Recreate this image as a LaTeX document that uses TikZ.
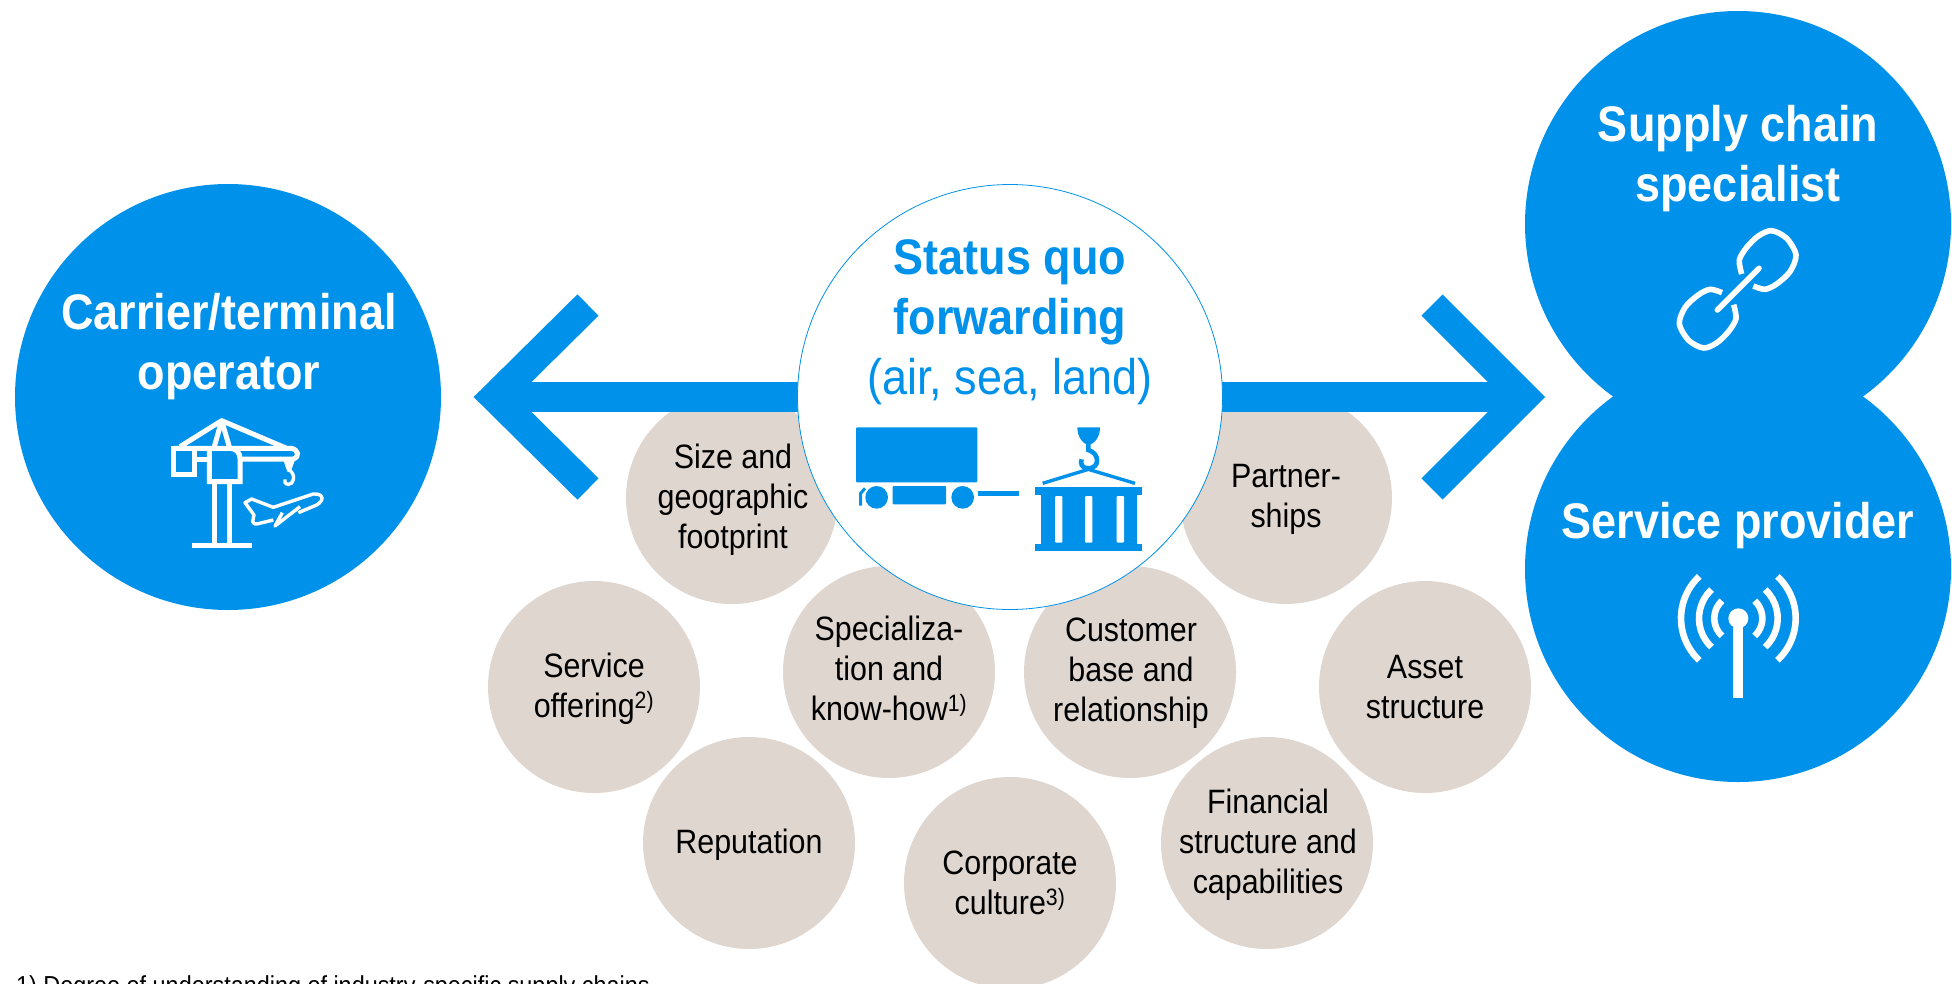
\documentclass[tikz,border=0pt]{standalone}
\usepackage{fontspec}
\setmainfont[FakeStretch=0.9]{Liberation Sans}
\usepackage{tikz}
\definecolor{dpblue}{RGB}{0,145,234}
\definecolor{dpgrey}{RGB}{223,214,207}
\newcommand{\bigfont}{\fontsize{50}{60}\selectfont}
\newcommand{\smallfont}{\fontsize{33.8}{40}\selectfont}
\tikzset{every node/.style={inner sep=0pt}}

\begin{document}
\begin{tikzpicture}[
  x=1pt, y=-1pt,
  disc/.style={shape=circle, fill=dpblue, minimum size=426pt},
  greydisc/.style={shape=circle, fill=dpgrey, minimum size=212pt},
  greytext/.style={align=center, font=\smallfont},
  headline/.style={align=center, text=white, font=\bigfont\bfseries},
  arrowline/.style={draw=dpblue, line width=30pt, miter limit=10},
  iconline/.style={draw=white, line width=5pt},
  bluefill/.style={fill=dpblue, rounded corners=1pt}
]
\useasboundingbox (0,0) rectangle (1952,983);

% factors behind the arrow
\path (732,498) node[greydisc] (size) {} ++(1,2) node[greytext] (sizetext) {Size and\\geographic\\footprint};
\path (594,687) node[greydisc] (offering) {} ++(0,2) node[greytext] (offeringtext) {Service\\offering\textsuperscript{2)}};
\path (889,672) node[greydisc] (know) {} ++(0,-4) node[greytext] (knowtext) {Specializa-\\tion and\\know-how\textsuperscript{1)}};
\path (1130,672) node[greydisc] (customer) {} ++(1,1) node[greytext] (customertext) {Customer\\base and\\relationship};
\path (1286,498) node[greydisc] (partner) {} ++(0,1) node[greytext] (partnertext) {Partner-\\ships};
\path (1425,687) node[greydisc] (asset) {} node[greytext] (assettext) {Asset\\structure};
\path (749,843) node[greydisc] (reputation) {} ++(0,2) node[greytext] (reputationtext) {Reputation};
\path (1010,883) node[greydisc] (culture) {} node[greytext] (culturetext) {Corporate\\culture\textsuperscript{3)}};
\path (1267,843) node[greydisc] (financial) {} ++(1,2) node[greytext] (financialtext) {Financial\\structure and\\capabilities};

% the three outer roles
\path (228,397) node[disc] (carrier) {};
\path (1738,224) node[disc] (supply) {};
\path (1738,569) node[disc] (provider) {};
\path (229,347) node[headline] (carriertext) {Carrier/terminal\\operator};
\path (1738,159) node[headline] (supplytext) {Supply chain\\specialist};
\path (1738,526) node[headline] (providertext) {Service provider};

% double arrow
\coordinate (lefttip) at (495,397);
\coordinate (leftup) at (588,305);
\coordinate (leftdown) at (588,489);
\coordinate (righttip) at (1524,397);
\coordinate (rightup) at (1432,305);
\coordinate (rightdown) at (1432,489);
\draw[arrowline] (leftup) -- (lefttip) -- (leftdown);
\draw[arrowline] (rightup) -- (righttip) -- (rightdown);
\draw[arrowline] (lefttip) -- (righttip);

% status quo
\path (1010,397) node[shape=circle, draw=dpblue, line width=0.8pt, fill=white, minimum size=425pt] (status) {};
\path (1010,322) node[align=center, text=dpblue, font=\bigfont] (statustext)
  {\textbf{Status quo}\\\textbf{forwarding}\\(air, sea, land)};

% truck and container
\begin{scope}[shift={(820,400)}, scale=1/3]
\fill[bluefill] (108,82) rectangle (472,247);
\fill[bluefill] (218,258) rectangle (378,313);
\fill[dpblue] (170,292) circle (34);
\fill[dpblue] (428,292) circle (34);
\fill[dpblue] (474,273) rectangle (597,288);
\draw[dpblue, line width=3pt] (122,317) -- (122,280) -- (135,265);
\fill[dpblue] (772,82) -- (840,82) .. controls (840,110) and (825,130) .. (806,136) .. controls (787,130) and (772,110) .. (772,82) -- cycle;
\draw[dpblue, line width=4.6pt] (805,130) -- (805,150) .. controls (840,160) and (840,205) .. (805,205) .. controls (785,205) and (780,190) .. (785,178);
\draw[dpblue, line width=3.4pt] (668,250) -- (805,208) -- (945,250);
\fill[dpblue] (646,262) rectangle (965,285);
\fill[dpblue] (662,285) rectangle (950,432);
\fill[dpblue] (646,432) rectangle (965,453);
\foreach \slotx in {705,795,890}
  \fill[white, rounded corners=1pt] (\slotx,288) rectangle ++(22,140);
\end{scope}

% crane and plane
\begin{scope}[shift={(130,390)}, scale=1/3]
\draw[iconline] (131,175) rectangle (192,252);
\draw[iconline] (131,175) -- (485,175) .. controls (505,180) and (510,200) .. (490,207) -- (330,207);
\draw[iconline] (192,207) -- (238,207);
\draw[iconline] (238,175) -- (238,275) -- (330,275) -- (330,205) .. controls (330,190) and (320,175) .. (300,175);
\draw[iconline] (253,275) -- (253,465);
\draw[iconline] (298,275) -- (298,465);
\draw[iconline] (186,465) -- (367,465);
\draw[iconline, line join=round] (150,170) -- (275,92) -- (470,175);
\draw[iconline, line join=round] (253,170) -- (275,92) -- (298,170);
\fill[white] (460,210) -- (495,210) -- (482,245) -- (472,245) -- cycle;
\draw[iconline, line width=3.4pt] (478,240) .. controls (500,255) and (490,285) .. (475,283) .. controls (465,282) and (462,275) .. (465,268);
\draw[iconline, line width=3.4pt, line join=round] (505,368) -- (560,345) .. controls (585,330) and (580,310) .. (550,312) -- (430,352) -- (365,327) -- (345,338) -- (372,375) -- (368,395) .. controls (370,402) and (375,402) .. (380,402) -- (430,390);
\draw[iconline, line width=3.4pt, line join=round] (510,350) -- (435,408) -- (457,368);
\end{scope}

% chain
\begin{scope}[shift={(1640,210)}, scale=1/3]
\draw[iconline, line width=5.6pt, line cap=round] (232,300) -- (357,175);
\draw[iconline, line width=5.6pt, smooth] plot coordinates {(305,192) (298,150) (320,112) (355,78) (395,62) (440,85) (468,135) (450,185) (410,222) (375,238) (340,228)};
\draw[iconline, line width=5.6pt, smooth] plot coordinates {(281,284) (288,326) (266,364) (231,398) (191,414) (146,391) (118,341) (136,291) (176,254) (211,238) (246,248)};
\end{scope}

% antenna
\begin{scope}[shift={(1640,560)}, scale=1/3]
\fill[white] (295,175) circle (30);
\fill[white] (280,190) rectangle (310,415);
\foreach \waver in {72,118,172} {
  \draw[iconline, line width=6.6pt] (295,175) ++(133:\waver) arc[start angle=133, end angle=227, radius=\waver];
  \draw[iconline, line width=6.6pt] (295,175) ++(47:\waver) arc[start angle=47, end angle=-47, radius=\waver];
}
\end{scope}

\path (16,994) node[anchor=base west, font=\fontsize{26}{30}\selectfont] (note) {1) Degree of understanding of industry-specific supply chains};
\end{tikzpicture}
\end{document}
